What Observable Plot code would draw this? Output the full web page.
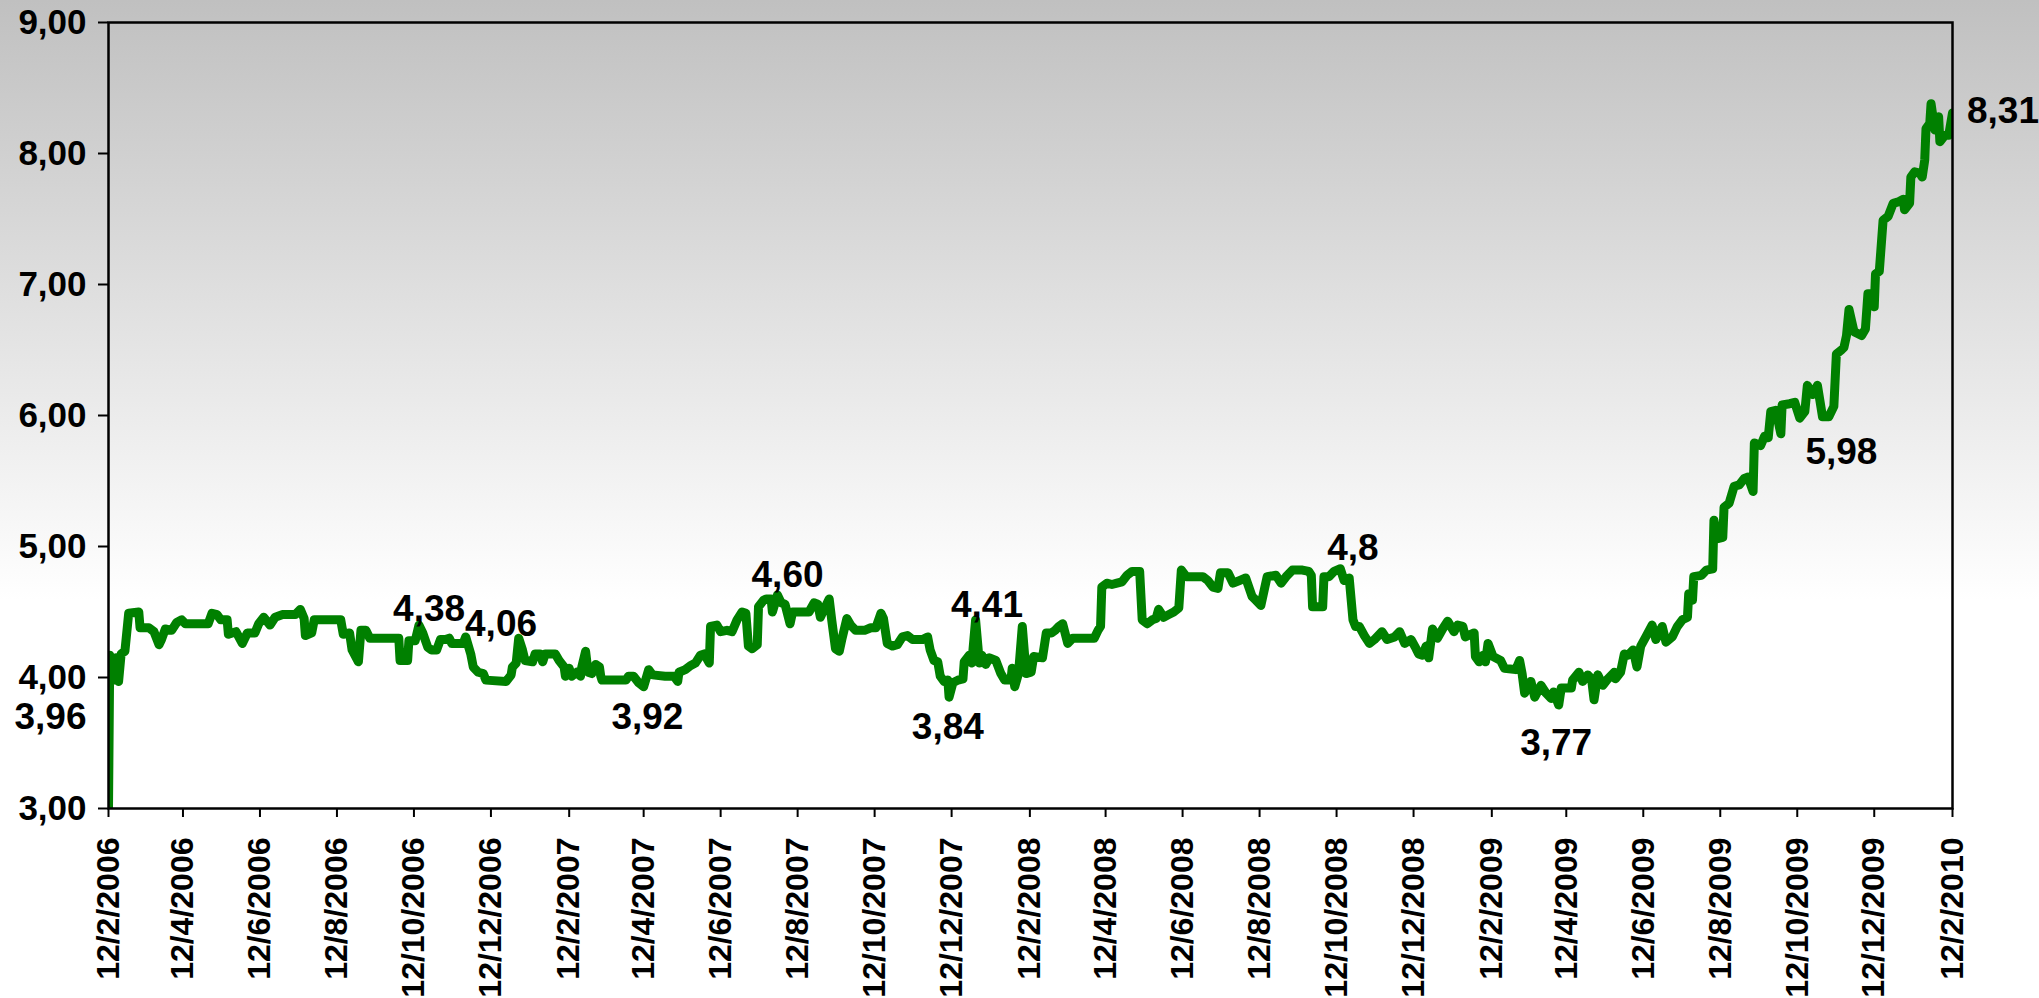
<!DOCTYPE html>
<html><head><meta charset="utf-8">
<script src="https://cdn.jsdelivr.net/npm/d3@7"></script>
<script src="https://cdn.jsdelivr.net/npm/@observablehq/plot@0.6"></script>
<style>
html,body{margin:0;padding:0;}
body{width:2039px;height:998px;overflow:hidden;background:linear-gradient(to bottom,#c0c0c0 0px,#ffffff 600px,#ffffff 998px);}
#chart svg{display:block;}
</style></head><body><div id="chart"></div>
<script>
const dates = [
"2006-02-12","2006-02-13","2006-02-16","2006-02-18","2006-02-20","2006-02-22","2006-02-25","2006-02-28","2006-03-08","2006-03-09",
"2006-03-16","2006-03-20","2006-03-24","2006-03-26","2006-03-29","2006-04-03","2006-04-07","2006-04-11","2006-04-14","2006-05-02",
"2006-05-05","2006-05-09","2006-05-12","2006-05-17","2006-05-18","2006-05-24","2006-05-29","2006-06-02","2006-06-08","2006-06-11",
"2006-06-15","2006-06-20","2006-06-24","2006-06-30","2006-07-10","2006-07-14","2006-07-17","2006-07-18","2006-07-23","2006-07-25",
"2006-07-31","2006-08-15","2006-08-17","2006-08-22","2006-08-24","2006-08-29","2006-08-31","2006-09-04","2006-09-07","2006-09-30",
"2006-10-01","2006-10-07","2006-10-08","2006-10-13","2006-10-16","2006-10-19","2006-10-23","2006-10-26","2006-10-30","2006-11-02",
"2006-11-06","2006-11-09","2006-11-11","2006-11-20","2006-11-22","2006-11-26","2006-11-28","2006-12-02","2006-12-06","2006-12-08",
"2006-12-24","2006-12-28","2006-12-29","2007-01-01","2007-01-03","2007-01-06","2007-01-08","2007-01-14","2007-01-16","2007-01-20",
"2007-01-22","2007-01-24","2007-02-01","2007-02-04","2007-02-08","2007-02-09","2007-02-12","2007-02-14","2007-02-18","2007-02-21",
"2007-02-22","2007-02-25","2007-02-27","2007-03-02","2007-03-05","2007-03-08","2007-03-09","2007-03-10","2007-03-29","2007-03-31",
"2007-04-04","2007-04-08","2007-04-12","2007-04-16","2007-04-19","2007-04-29","2007-05-06","2007-05-09","2007-05-10","2007-05-15",
"2007-05-19","2007-05-23","2007-05-27","2007-05-30","2007-06-03","2007-06-04","2007-06-09","2007-06-12","2007-06-17","2007-06-21",
"2007-06-25","2007-06-29","2007-07-02","2007-07-04","2007-07-07","2007-07-11","2007-07-12","2007-07-16","2007-07-18","2007-07-22",
"2007-07-23","2007-07-27","2007-07-30","2007-08-02","2007-08-06","2007-08-08","2007-08-21","2007-08-25","2007-08-28","2007-08-30",
"2007-09-02","2007-09-06","2007-09-08","2007-09-11","2007-09-14","2007-09-16","2007-09-20","2007-09-23","2007-09-27","2007-10-04",
"2007-10-09","2007-10-13","2007-10-17","2007-10-19","2007-10-22","2007-10-26","2007-10-30","2007-11-03","2007-11-07","2007-11-11",
"2007-11-19","2007-11-23","2007-11-25","2007-11-28","2007-12-01","2007-12-03","2007-12-06","2007-12-09","2007-12-10","2007-12-13",
"2007-12-17","2007-12-21","2007-12-22","2007-12-26","2007-12-28","2007-12-31","2008-01-03","2008-01-05","2008-01-08","2008-01-11",
"2008-01-16","2008-01-20","2008-01-23","2008-01-28","2008-01-29","2008-01-31","2008-02-03","2008-02-06","2008-02-09","2008-02-13",
"2008-02-15","2008-02-22","2008-02-25","2008-02-29","2008-03-03","2008-03-06","2008-03-09","2008-03-13","2008-03-17","2008-03-30",
"2008-04-03","2008-04-06","2008-04-08","2008-04-09","2008-04-13","2008-04-17","2008-04-21","2008-04-25","2008-04-29","2008-05-03",
"2008-05-09","2008-05-11","2008-05-15","2008-05-19","2008-05-22","2008-05-24","2008-05-28","2008-06-01","2008-06-05","2008-06-09",
"2008-06-11","2008-06-15","2008-06-28","2008-07-02","2008-07-06","2008-07-10","2008-07-12","2008-07-18","2008-07-22","2008-07-27",
"2008-08-01","2008-08-06","2008-08-09","2008-08-13","2008-08-18","2008-08-25","2008-08-29","2008-09-02","2008-09-07","2008-09-15",
"2008-09-20","2008-09-22","2008-09-23","2008-10-01","2008-10-02","2008-10-06","2008-10-10","2008-10-15","2008-10-18","2008-10-22",
"2008-10-25","2008-10-27","2008-10-30","2008-11-03","2008-11-07","2008-11-11","2008-11-17","2008-11-21","2008-11-27","2008-12-01",
"2008-12-05","2008-12-10","2008-12-14","2008-12-16","2008-12-19","2008-12-22","2008-12-24","2008-12-27","2008-12-31","2009-01-04",
"2009-01-08","2009-01-13","2009-01-16","2009-01-20","2009-01-22","2009-01-29","2009-01-30","2009-02-02","2009-02-05","2009-02-07",
"2009-02-09","2009-02-13","2009-02-19","2009-02-22","2009-03-03","2009-03-06","2009-03-08","2009-03-10","2009-03-15","2009-03-18",
"2009-03-23","2009-03-27","2009-03-31","2009-04-02","2009-04-06","2009-04-08","2009-04-16","2009-04-17","2009-04-22","2009-04-25",
"2009-04-29","2009-05-02","2009-05-04","2009-05-07","2009-05-11","2009-05-15","2009-05-20","2009-05-21","2009-05-25","2009-05-28",
"2009-05-31","2009-06-04","2009-06-07","2009-06-10","2009-06-14","2009-06-19","2009-06-22","2009-06-27","2009-06-30","2009-07-05",
"2009-07-09","2009-07-13","2009-07-17","2009-07-18","2009-07-21","2009-07-22","2009-07-28","2009-08-01","2009-08-06","2009-08-07",
"2009-08-10","2009-08-14","2009-08-15","2009-08-19","2009-08-23","2009-08-27","2009-08-31","2009-09-03","2009-09-07","2009-09-08",
"2009-09-13","2009-09-16","2009-09-19","2009-09-21","2009-09-25","2009-09-29","2009-09-30","2009-10-06","2009-10-10","2009-10-14",
"2009-10-18","2009-10-20","2009-10-24","2009-10-28","2009-11-01","2009-11-06","2009-11-10","2009-11-12","2009-11-16","2009-11-18",
"2009-11-20","2009-11-22","2009-11-26","2009-12-02","2009-12-05","2009-12-07","2009-12-09","2009-12-12","2009-12-13","2009-12-16",
"2009-12-19","2009-12-23","2009-12-27","2009-12-31","2010-01-04","2010-01-05","2010-01-09","2010-01-10","2010-01-13","2010-01-17",
"2010-01-19","2010-01-21","2010-01-22","2010-01-25","2010-01-26","2010-01-29","2010-02-01","2010-02-02","2010-02-06","2010-02-09",
"2010-02-12"
];
const rates = [
3.00,4.17,3.98,4.15,3.97,4.18,4.20,4.49,4.50,4.38,
4.38,4.35,4.25,4.29,4.37,4.36,4.42,4.44,4.41,4.41,
4.49,4.48,4.44,4.44,4.33,4.35,4.26,4.34,4.34,4.41,
4.46,4.40,4.46,4.48,4.48,4.52,4.45,4.32,4.34,4.44,
4.44,4.44,4.33,4.34,4.21,4.12,4.36,4.36,4.30,4.30,
4.13,4.13,4.28,4.28,4.40,4.34,4.23,4.21,4.21,4.29,
4.29,4.30,4.26,4.26,4.31,4.18,4.08,4.04,4.03,3.98,
3.97,4.02,4.08,4.11,4.30,4.21,4.13,4.12,4.18,4.18,
4.12,4.18,4.18,4.13,4.08,4.01,4.07,4.01,4.04,4.01,
4.08,4.20,4.04,4.03,4.10,4.08,4.01,3.98,3.98,4.01,
4.01,3.96,3.93,4.06,4.02,4.01,4.01,3.97,4.04,4.06,
4.09,4.11,4.17,4.18,4.11,4.39,4.40,4.35,4.36,4.35,
4.44,4.50,4.49,4.24,4.22,4.25,4.54,4.59,4.60,4.60,
4.50,4.63,4.57,4.56,4.41,4.50,4.50,4.57,4.56,4.46,
4.52,4.60,4.44,4.22,4.20,4.29,4.45,4.40,4.36,4.36,
4.38,4.38,4.49,4.45,4.26,4.24,4.25,4.31,4.32,4.29,
4.29,4.31,4.21,4.13,4.12,4.01,3.97,3.98,3.85,3.96,
3.98,3.99,4.12,4.17,4.11,4.44,4.11,4.17,4.10,4.15,
4.13,4.03,3.98,3.98,4.07,3.93,4.03,4.39,4.03,4.04,
4.16,4.15,4.34,4.34,4.36,4.39,4.41,4.26,4.30,4.30,
4.30,4.36,4.39,4.69,4.72,4.71,4.72,4.73,4.78,4.81,
4.81,4.44,4.41,4.44,4.45,4.52,4.46,4.48,4.50,4.53,
4.82,4.77,4.77,4.74,4.69,4.68,4.80,4.80,4.72,4.74,
4.76,4.62,4.59,4.55,4.77,4.78,4.72,4.77,4.82,4.82,
4.81,4.78,4.54,4.54,4.77,4.77,4.81,4.83,4.74,4.76,
4.44,4.39,4.39,4.32,4.26,4.29,4.35,4.29,4.31,4.35,
4.26,4.29,4.22,4.18,4.17,4.24,4.15,4.37,4.30,4.37,
4.43,4.35,4.40,4.39,4.31,4.34,4.16,4.12,4.17,4.12,
4.26,4.16,4.13,4.07,4.06,4.13,4.03,3.88,3.97,3.85,
3.94,3.88,3.84,3.89,3.79,3.92,3.92,3.98,4.04,3.97,
4.02,3.99,3.83,4.02,3.94,3.99,4.04,3.99,4.04,4.18,
4.17,4.21,4.08,4.24,4.31,4.40,4.29,4.39,4.27,4.31,
4.39,4.44,4.46,4.64,4.59,4.77,4.78,4.82,4.83,5.20,
5.06,5.07,5.30,5.33,5.46,5.47,5.52,5.53,5.42,5.79,
5.77,5.84,5.83,6.03,6.04,5.86,6.08,6.09,6.10,5.98,
6.03,6.23,6.16,6.23,5.99,5.99,6.07,6.47,6.50,6.52,
6.61,6.81,6.64,6.61,6.66,6.93,6.93,6.83,7.08,7.10,
7.49,7.52,7.62,7.63,7.65,7.57,7.62,7.82,7.86,7.85,
7.82,7.95,8.19,8.23,8.38,8.18,8.28,8.09,8.14,8.14,
8.31
];

const yTicks = [3, 4, 5, 6, 7, 8, 9];
const yTickLabels = ["3,00", "4,00", "5,00", "6,00", "7,00", "8,00", "9,00"];

const xTickDates = [
"2006-02-12","2006-04-12","2006-06-12","2006-08-12","2006-10-12","2006-12-12",
"2007-02-12","2007-04-12","2007-06-12","2007-08-12","2007-10-12","2007-12-12",
"2008-02-12","2008-04-12","2008-06-12","2008-08-12","2008-10-12","2008-12-12",
"2009-02-12","2009-04-12","2009-06-12","2009-08-12","2009-10-12","2009-12-12",
"2010-02-12"
];
const xTickLabels = [
"12/2/2006","12/4/2006","12/6/2006","12/8/2006","12/10/2006","12/12/2006",
"12/2/2007","12/4/2007","12/6/2007","12/8/2007","12/10/2007","12/12/2007",
"12/2/2008","12/4/2008","12/6/2008","12/8/2008","12/10/2008","12/12/2008",
"12/2/2009","12/4/2009","12/6/2009","12/8/2009","12/10/2009","12/12/2009",
"12/2/2010"
];

// data labels (placed in data space, where each label sits)
const labelTexts  = ["3,96","4,38","4,06","3,92","4,60","4,41","3,84","4,8","3,77","5,98","8,31"];
const labelDates  = ["2005-12-28","2006-10-24","2006-12-20","2007-04-15","2007-08-04","2008-01-09","2007-12-09","2008-10-25","2009-04-04","2009-11-16","2010-03-24"];
const labelValues = [3.70,4.52,4.41,3.70,4.78,4.55,3.62,4.99,3.50,5.72,8.32];

const parse = s => new Date(s + "T00:00:00Z");
const series = dates.map((d, i) => ({date: parse(d), rate: rates[i]}));
const labels = labelTexts.map((t, i) => ({date: parse(labelDates[i]), value: labelValues[i], text: t}));
const xTicks = xTickDates.map(parse);
const xLabelOf = new Map(xTickDates.map((d, i) => [parse(d).getTime(), xTickLabels[i]]));
const yLabelOf = new Map(yTicks.map((v, i) => [v, yTickLabels[i]]));

const font = "'Liberation Sans', Arial, Helvetica, sans-serif";

const chart = Plot.plot({
  width: 2039,
  height: 998,
  marginLeft: 108,
  marginRight: 87,
  marginTop: 22,
  marginBottom: 190,
  style: {background: "transparent", fontFamily: font, color: "#000", overflow: "visible"},
  x: {type: "utc", domain: [parse("2006-02-12"), parse("2010-02-12")]},
  y: {domain: [3, 9]},
  marks: [
    Plot.axisY({ticks: yTicks, tickFormat: d => yLabelOf.get(d), tickSize: 10, tickPadding: 12,
      fontSize: 35, fontWeight: "bold", strokeWidth: 2, label: null}),
    Plot.axisX({ticks: xTicks, tickFormat: d => xLabelOf.get(d.getTime()), tickSize: 9, tickPadding: 20,
      tickRotate: -90, fontSize: 32, fontWeight: "bold", strokeWidth: 2, label: null}),
    Plot.line(series, {x: "date", y: "rate", stroke: "#008000", strokeWidth: 9, strokeLinejoin: "round", strokeLinecap: "round", clip: true}),
    Plot.frame({stroke: "#000", strokeWidth: 2.5}),
    Plot.text(labels, {x: "date", y: "value", text: "text", fontSize: 37, fontWeight: "bold", fill: "#000", fontFamily: font})
  ]
});
document.getElementById("chart").appendChild(chart);
</script>
</body></html>
